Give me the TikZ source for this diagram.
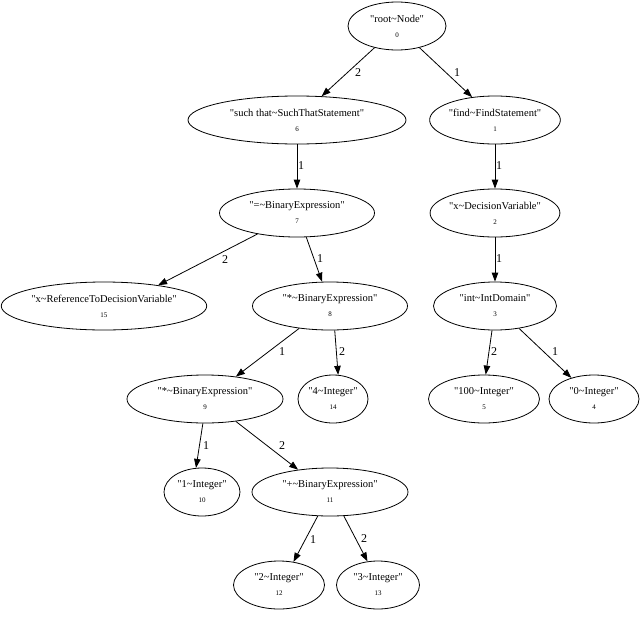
\documentclass[tikz,border=0pt]{standalone}
\usepackage{fontspec}
\setmainfont{Liberation Serif}
\usetikzlibrary{shapes.geometric,arrows.meta}
\tikzset{
  ell/.style={ellipse, draw, line width=0.8pt, inner sep=0pt, minimum height=48pt, align=center,
    font=\fontsize{10.5}{12}\selectfont},
  arr/.style={-{Triangle[length=9pt,width=6.5pt]}, line width=0.8pt},
  elab/.style={inner sep=0pt, font=\fontsize{12}{12}\selectfont},
}
\newcommand{\idn}[1]{\\[3pt]{\fontsize{7}{7}\selectfont #1}}
\newcommand{\qq}[1]{\textquotedbl #1\textquotedbl}
\newcommand{\tl}{\textasciitilde}
\begin{document}
\begin{tikzpicture}[x=1pt,y=-1pt]
\useasboundingbox (0,0) rectangle (640,632);
\node[ell, minimum width=98pt]  (n0)  at (397,26)  {\qq{root\tl Node}\idn{0}};
\node[ell, minimum width=218pt] (n6)  at (297,120) {\qq{such that\tl SuchThatStatement}\idn{6}};
\node[ell, minimum width=98pt]  (n1)  at (495,120) {\qq{find\tl FindStatement}\idn{1}};
\node[ell, minimum width=155pt] (n7)  at (297,213) {\qq{=\tl BinaryExpression}\idn{7}};
\node[ell, minimum width=98pt]  (n2)  at (495,213) {\qq{x\tl DecisionVariable}\idn{2}};
\node[ell, minimum width=204pt] (n15) at (104,306) {\qq{x\tl ReferenceToDecisionVariable}\idn{15}};
\node[ell, minimum width=155pt] (n8)  at (330,306) {\qq{*\tl BinaryExpression}\idn{8}};
\node[ell, minimum width=123pt] (n3)  at (495,306) {\qq{int\tl IntDomain}\idn{3}};
\node[ell, minimum width=156pt] (n9)  at (205,399) {\qq{*\tl BinaryExpression}\idn{9}};
\node[ell, minimum width=70pt]  (n14) at (333,399) {\qq{4\tl Integer}\idn{14}};
\node[ell, minimum width=111pt] (n5)  at (484,399) {\qq{100\tl Integer}\idn{5}};
\node[ell, minimum width=90pt]  (n4)  at (594,399) {\qq{0\tl Integer}\idn{4}};
\node[ell, minimum width=76pt]  (n10) at (202,492) {\qq{1\tl Integer}\idn{10}};
\node[ell, minimum width=156pt] (n11) at (330,492) {\qq{+\tl BinaryExpression}\idn{11}};
\node[ell, minimum width=91pt]  (n12) at (279,585) {\qq{2\tl Integer}\idn{12}};
\node[ell, minimum width=83pt]  (n13) at (378,585) {\qq{3\tl Integer}\idn{13}};

\draw[arr] (n0.224) -- (n6.44);
\draw[arr] (n0.316) -- (n1.135);
\draw[arr] (n6.270) -- (n7.90);
\draw[arr] (n1.270) -- (n2.90);
\draw[arr] (n7.208) -- (n15.21);
\draw[arr] (n7.291) -- (n8.108);
\draw[arr] (n2.270) -- (n3.90);
\draw[arr] (n8.216) -- (n9.36);
\draw[arr] (n8.281) -- (n14.78);
\draw[arr] (n3.263) -- (n5.86);
\draw[arr] (n3.317) -- (n4.137);
\draw[arr] (n9.265) -- (n10.104);
\draw[arr] (n9.324) -- (n11.145);
\draw[arr] (n11.243) -- (n12.58);
\draw[arr] (n11.300) -- (n13.114);

\node[elab] (l06)  at (358,73)  {2};
\node[elab] (l01)  at (457,73)  {1};
\node[elab] (l67)  at (301,166) {1};
\node[elab] (l12)  at (499,166) {1};
\node[elab] (l715) at (225,260) {2};
\node[elab] (l78)  at (320,259) {1};
\node[elab] (l23)  at (499,259) {1};
\node[elab] (l89)  at (282,352) {1};
\node[elab] (l814) at (342,352) {2};
\node[elab] (l35)  at (494,352) {2};
\node[elab] (l34)  at (555,352) {1};
\node[elab] (l910) at (206,446) {1};
\node[elab] (l911) at (282,446) {2};
\node[elab] (l1112) at (313,540) {1};
\node[elab] (l1113) at (364,539) {2};
\end{tikzpicture}
\end{document}
